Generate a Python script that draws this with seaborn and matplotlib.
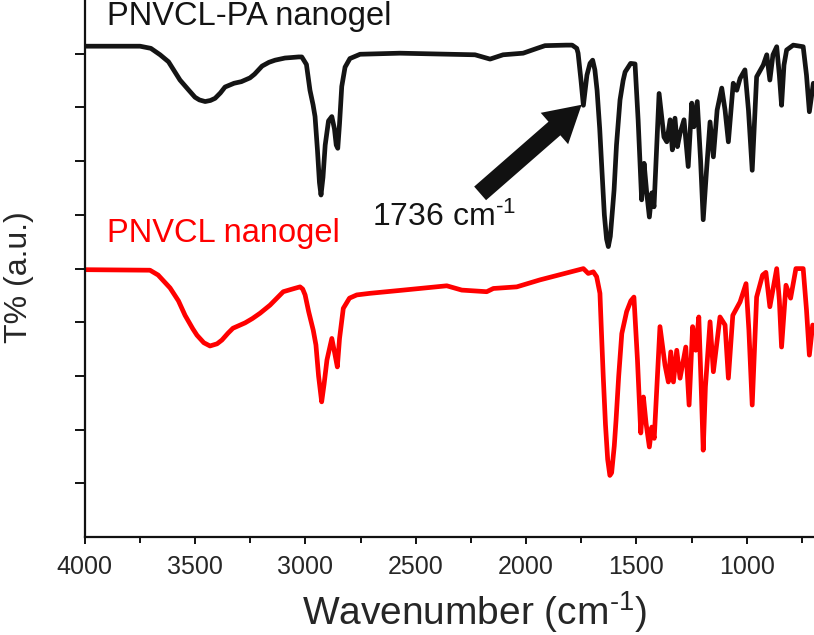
import numpy as np
import pandas as pd
import matplotlib
matplotlib.use('Agg')
import matplotlib.pyplot as plt
import seaborn as sns

# FTIR spectra, values (T% in arbitrary units, offset)
pa_wavenumber = [4000, 3749, 3700, 3658, 3620, 3568, 3530, 3500, 3480, 3454,
                 3430, 3409, 3385, 3364, 3323, 3290, 3251, 3230, 3196, 3165,
                 3137, 3092, 3060, 3031, 3016, 2995, 2979, 2965, 2956, 2945,
                 2936, 2929, 2920, 2910, 2895, 2880, 2868, 2860, 2853, 2845,
                 2835, 2820, 2798, 2752, 2571, 2345, 2231, 2163, 2104, 2013,
                 1950, 1914, 1818, 1791, 1770, 1764, 1751, 1740, 1724, 1710,
                 1698, 1688, 1678, 1666, 1656, 1645, 1635, 1627, 1618, 1608,
                 1601, 1590, 1574, 1560, 1551, 1526, 1506, 1492, 1476, 1465,
                 1453, 1441, 1430, 1420, 1397, 1375, 1362, 1347, 1337, 1325,
                 1314, 1302, 1284, 1265, 1249, 1239, 1224, 1209, 1197, 1182,
                 1166, 1151, 1134, 1113, 1098, 1083, 1061, 1045, 1030, 1008,
                 992, 975, 955, 925, 909, 895, 881, 864, 852, 842,
                 831, 819, 789, 744, 729, 716, 698]
pa_trans = [9.14, 9.14, 9.10, 8.98, 8.85, 8.51, 8.33, 8.19, 8.14, 8.11,
            8.13, 8.17, 8.27, 8.38, 8.45, 8.48, 8.55, 8.62, 8.77, 8.84,
            8.88, 8.92, 8.93, 8.94, 8.94, 8.80, 8.32, 8.05, 7.83, 7.20,
            6.60, 6.37, 6.70, 7.30, 7.75, 7.83, 7.60, 7.30, 7.24, 7.70,
            8.39, 8.75, 8.91, 8.99, 9.01, 8.99, 8.98, 8.90, 8.98, 9.01,
            9.10, 9.15, 9.16, 9.16, 9.10, 9.01, 8.51, 8.04, 8.60, 8.82,
            8.88, 8.70, 8.32, 7.60, 6.83, 6.00, 5.55, 5.41, 5.60, 6.10,
            6.46, 7.30, 8.14, 8.50, 8.66, 8.82, 8.81, 7.77, 6.28, 6.96,
            6.41, 5.96, 6.41, 6.15, 8.26, 7.45, 7.36, 7.77, 7.21, 7.80,
            7.27, 7.52, 7.77, 6.90, 8.08, 7.64, 8.11, 7.02, 5.91, 6.83,
            7.73, 7.08, 7.95, 8.36, 7.95, 7.36, 8.45, 8.32, 8.54, 8.70,
            7.95, 6.83, 8.57, 8.79, 8.98, 8.51, 8.98, 9.13, 8.60, 8.04,
            8.79, 9.07, 9.16, 9.13, 8.60, 7.92, 8.45]

nvcl_wavenumber = [4000, 3704, 3667, 3613, 3575, 3545, 3510, 3491, 3460, 3432,
                   3400, 3378, 3350, 3328, 3273, 3240, 3205, 3160, 3100, 3050,
                   3024, 3012, 3001, 2985, 2964, 2952, 2940, 2926, 2915, 2902,
                   2880, 2868, 2855, 2845, 2828, 2800, 2767, 2707, 2556, 2359,
                   2291, 2178, 2148, 2042, 1937, 1740, 1718, 1695, 1680, 1665,
                   1658, 1650, 1640, 1630, 1620, 1612, 1600, 1592, 1580, 1566,
                   1544, 1525, 1511, 1495, 1480, 1468, 1456, 1441, 1430, 1419,
                   1393, 1370, 1355, 1344, 1332, 1317, 1302, 1276, 1261, 1245,
                   1231, 1217, 1207, 1197, 1187, 1166, 1151, 1121, 1098, 1083,
                   1063, 1030, 1003, 990, 975, 955, 928, 913, 895, 864,
                   852, 842, 822, 801, 777, 744, 729, 716, 701]
nvcl_trans = [4.98, 4.97, 4.88, 4.64, 4.40, 4.13, 3.88, 3.76, 3.62, 3.56,
              3.60, 3.67, 3.80, 3.89, 3.99, 4.07, 4.17, 4.32, 4.57, 4.63,
              4.66, 4.62, 4.51, 4.20, 3.85, 3.58, 3.00, 2.52, 2.85, 3.30,
              3.70, 3.45, 3.17, 3.70, 4.26, 4.45, 4.51, 4.54, 4.60, 4.68,
              4.60, 4.57, 4.63, 4.66, 4.79, 5.00, 4.91, 4.94, 4.85, 4.54,
              3.80, 2.99, 2.10, 1.45, 1.15, 1.20, 1.70, 2.18, 3.00, 3.79,
              4.20, 4.40, 4.47, 3.30, 1.94, 2.61, 2.12, 1.68, 2.05, 1.84,
              3.92, 3.20, 2.89, 3.45, 2.89, 3.48, 2.96, 3.54, 2.46, 3.92,
              3.48, 4.10, 2.90, 1.62, 2.80, 4.01, 3.08, 4.10, 3.95, 2.96,
              4.13, 4.38, 4.72, 3.85, 2.46, 4.47, 4.88, 4.93, 4.29, 5.00,
              4.41, 3.54, 4.69, 4.45, 5.00, 5.00, 4.23, 3.39, 3.95]

x_major = [4000, 3500, 3000, 2500, 2000, 1500, 1000]
x_minor = [3750, 3250, 2750, 2250, 1750, 1250, 750]

sns.set_style('ticks')
plt.rcParams['font.family'] = ['Liberation Sans', 'DejaVu Sans']
plt.rcParams['mathtext.fontset'] = 'custom'
plt.rcParams['mathtext.rm'] = 'Liberation Sans'
plt.rcParams['mathtext.it'] = 'Liberation Sans:italic'
plt.rcParams['mathtext.bf'] = 'Liberation Sans:bold'

fig = plt.figure(figsize=(8.14, 6.35), dpi=100)
ax = fig.add_axes([0.104, 0.154, 0.896, 0.846])

sns.lineplot(x=pa_wavenumber, y=pa_trans, color='#141414', lw=3.4, ax=ax,
             sort=False, estimator=None, solid_joinstyle='round')
sns.lineplot(x=nvcl_wavenumber, y=nvcl_trans, color='#ff0000', lw=3.4, ax=ax,
             sort=False, estimator=None, solid_joinstyle='round')

ax.set_xlim(4000, 695)
ax.set_ylim(0, 10)
ax.set_xticks(x_major)
ax.set_xticks(x_minor, minor=True)
ax.set_yticks(range(1, 10))
ax.set_yticklabels([])

ax.tick_params(axis='x', which='major', length=5, width=1.4, labelsize=18, pad=8, color='#111')
ax.tick_params(axis='x', which='minor', length=4, width=1.4, color='#111')
ax.tick_params(axis='y', length=7, width=1.4, color='#111')
for s in ['top', 'right']:
    ax.spines[s].set_visible(False)
for s in ['left', 'bottom']:
    ax.spines[s].set_linewidth(1.6)
    ax.spines[s].set_color('#111')

sup = '$^{\\mathregular{\u2010}1}$'
ax.set_xlabel('Wavenumber (cm' + sup + ')', fontsize=28)
ax.xaxis.set_label_coords(0.535, -0.096)
ax.set_ylabel('T% (a.u.)', fontsize=23)
ax.yaxis.set_label_coords(-0.07, 0.484)

ax.text(3900, 9.53, 'PNVCL-PA nanogel', fontsize=23.5, color='#141414', va='baseline')
ax.text(3900, 5.50, 'PNVCL nanogel', fontsize=23.5, color='#ff0000', va='baseline')
ax.text(2699, 5.80, '1736 cm' + sup, fontsize=23, color='#141414', va='baseline')

ax.annotate('', xy=(1748, 8.05), xytext=(2208, 6.40),
            arrowprops=dict(facecolor='#111', edgecolor='none', width=13,
                            headwidth=30, headlength=26, shrink=0))

fig.savefig('out.png', dpi=100)
